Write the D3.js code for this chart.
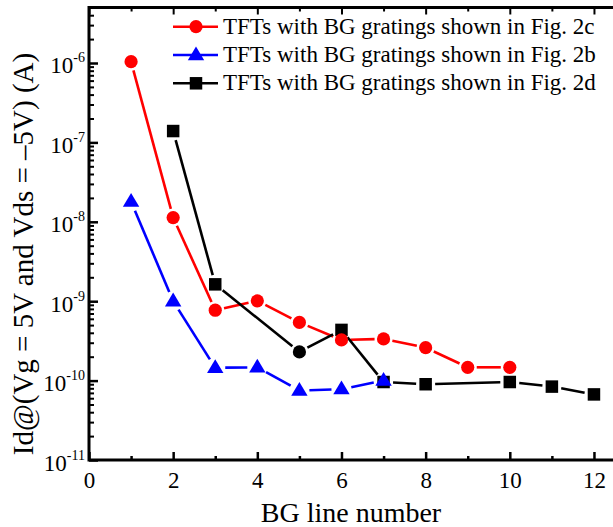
<!DOCTYPE html>
<html>
<head>
<meta charset="utf-8">
<script src="https://cdn.jsdelivr.net/npm/d3@7"></script>
<style>
  body { margin: 0; background: #fff; }
  text { font-family: "Liberation Serif", "Times New Roman", serif; fill: #000; }
</style>
</head>
<body>
<svg id="chart" width="613" height="527"></svg>
<script>
// data
var redX = [1, 2, 3, 4, 5, 6, 7, 8, 9, 10];
var redY = [1.04e-6, 1.13e-8, 7.7e-10, 1.01e-9, 5.4e-10, 3.25e-10, 3.35e-10, 2.6e-10, 1.47e-10, 1.47e-10];

var blueX = [1, 2, 3, 4, 5, 6, 7];
var blueY = [1.8e-8, 1.0e-9, 1.45e-10, 1.47e-10, 7.5e-11, 7.8e-11, 1.0e-10];

var blackX = [2, 3, 5, 6, 7, 8, 10, 11, 12];
var blackY = [1.39e-7, 1.63e-9, 2.3e-10, 4.35e-10, 9.6e-11, 9.0e-11, 9.6e-11, 8.4e-11, 6.7e-11];
var blackShape = ["square", "square", "circle", "square", "square", "square", "square", "square", "square"];

var legendLabels = [
  "TFTs with BG gratings shown in Fig. 2c",
  "TFTs with BG gratings shown in Fig. 2b",
  "TFTs with BG gratings shown in Fig. 2d"
];

var xTicks = [0, 2, 4, 6, 8, 10, 12];
var xMinor = [1, 3, 5, 7, 9, 11];
var yDecades = [-11, -10, -9, -8, -7, -6];

var svg = d3.select("#chart");

var plotLeft = 89, plotRight = 615, plotTop = 7.5, plotBottom = 460;

var x = d3.scaleLinear().domain([0, 12.5]).range([plotLeft, plotRight]);
var y = d3.scaleLog().domain([1e-11, 5e-6]).range([plotBottom, plotTop]);

// minor log ticks
var yMinor = [];
yDecades.forEach(function(e) {
  for (var m = 2; m <= 9; m++) {
    var v = m * Math.pow(10, e);
    if (v <= 5e-6) yMinor.push(v);
  }
});

// y axis (ticks inside)
svg.append("g")
  .attr("transform", `translate(${plotLeft},0)`)
  .call(d3.axisLeft(y).tickValues(yMinor).tickSize(-5).tickFormat(""))
  .call(function(g) { g.selectAll("line").attr("stroke-width", 2); g.select(".domain").remove(); });

var yAx = svg.append("g")
  .attr("transform", `translate(${plotLeft},0)`)
  .call(d3.axisLeft(y).tickValues(yDecades.map(function(e) { return Math.pow(10, e); }))
    .tickSize(-9).tickPadding(2).tickFormat(function(d) { return ""; }));
yAx.select(".domain").remove();
yAx.selectAll("line").attr("stroke-width", 2.5);
yAx.selectAll(".tick text").each(function(d) {
  var t = d3.select(this)
    .attr("font-family", "Liberation Serif")
    .attr("font-size", 23)
    .attr("text-anchor", "end")
    .attr("dy", null)
    .attr("y", 10)
    .attr("x", -4);
  t.append("tspan").text("10");
  t.append("tspan").attr("font-size", 14).attr("dy", -11).text(Math.round(Math.log10(d)));
});

// x axis (ticks inside)
svg.append("g")
  .attr("transform", `translate(0,${plotBottom})`)
  .call(d3.axisBottom(x).tickValues(xMinor).tickSize(-4).tickFormat(""))
  .call(function(g) { g.selectAll("line").attr("stroke-width", 2.5); g.select(".domain").remove(); });

var xAx = svg.append("g")
  .attr("transform", `translate(0,${plotBottom})`)
  .call(d3.axisBottom(x).tickValues(xTicks).tickSize(-8).tickPadding(12).tickFormat(d3.format("d")));
xAx.select(".domain").remove();
xAx.selectAll("line").attr("stroke-width", 2.5);
xAx.selectAll("text").attr("font-family", "Liberation Serif").attr("font-size", 23).attr("dy", "0.71em");

// top border ticks
svg.append("g")
  .attr("transform", `translate(0,${plotTop})`)
  .call(d3.axisTop(x).tickValues(xMinor).tickSize(-4).tickFormat(""))
  .call(function(g) { g.selectAll("line").attr("stroke-width", 2); g.select(".domain").remove(); });
svg.append("g")
  .attr("transform", `translate(0,${plotTop})`)
  .call(d3.axisTop(x).tickValues(xTicks).tickSize(-7).tickFormat(""))
  .call(function(g) { g.selectAll("line").attr("stroke-width", 2); g.select(".domain").remove(); });

// frame
svg.append("path")
  .attr("d", `M${plotRight + 10},${plotTop}H${plotLeft}V${plotBottom}H${plotRight + 10}`)
  .attr("fill", "none").attr("stroke", "#000").attr("stroke-width", 3);

// series
var series = [
  { xs: redX, ys: redY, color: "#ff0000", shapes: redX.map(function() { return "circle"; }) },
  { xs: blueX, ys: blueY, color: "#0000ff", shapes: blueX.map(function() { return "triangle"; }) },
  { xs: blackX, ys: blackY, color: "#000000", shapes: blackShape }
];

var gapR = { circle: 9, triangle: 10, square: 9.5 };

function markerPath(shape) {
  if (shape === "circle") return d3.symbol(d3.symbolCircle, Math.PI * 6.6 * 6.6)();
  if (shape === "square") return d3.symbol(d3.symbolSquare, 12.5 * 12.5)();
  return "M0,-8.6L8.2,5.2L-8.2,5.2Z";
}

var lineLayer = svg.append("g");
var markLayer = svg.append("g");

series.forEach(function(s) {
  for (var i = 0; i < s.xs.length - 1; i++) {
    var x0 = x(s.xs[i]), y0 = y(s.ys[i]), x1 = x(s.xs[i + 1]), y1 = y(s.ys[i + 1]);
    var len = Math.hypot(x1 - x0, y1 - y0);
    var g0 = gapR[s.shapes[i]], g1 = gapR[s.shapes[i + 1]];
    if (len <= g0 + g1) continue;
    var ux = (x1 - x0) / len, uy = (y1 - y0) / len;
    lineLayer.append("line")
      .attr("x1", x0 + ux * g0).attr("y1", y0 + uy * g0)
      .attr("x2", x1 - ux * g1).attr("y2", y1 - uy * g1)
      .attr("stroke", s.color).attr("stroke-width", 2.6);
  }
});

[series[2], series[0], series[1]].forEach(function(s) {
  markLayer.selectAll(null)
    .data(s.xs.map(function(v, i) { return { x: v, y: s.ys[i], shape: s.shapes[i] }; }))
    .enter().append("path")
    .attr("transform", function(d) { return `translate(${x(d.x)},${y(d.y)})`; })
    .attr("d", function(d) { return markerPath(d.shape); })
    .attr("fill", s.color);
});

// legend
var legend = svg.append("g");
var legendShapes = ["circle", "triangle", "square"];
series.forEach(function(s, i) {
  var ly = 26.7 + i * 28.3;
  legend.append("line")
    .attr("x1", 173).attr("x2", 218).attr("y1", ly).attr("y2", ly)
    .attr("stroke", s.color).attr("stroke-width", 2.6);
  legend.append("path")
    .attr("transform", `translate(196,${ly})`)
    .attr("d", markerPath(legendShapes[i]))
    .attr("fill", s.color);
  legend.append("text")
    .attr("x", 223).attr("y", ly + 6.8)
    .attr("font-size", 23)
    .text(legendLabels[i]);
});

// axis titles
svg.append("text")
  .attr("x", (plotLeft + 613) / 2).attr("y", 522)
  .attr("text-anchor", "middle")
  .attr("font-size", 28)
  .text("BG line number");

svg.append("text")
  .attr("transform", "translate(33,254) rotate(-90)")
  .attr("text-anchor", "middle")
  .attr("font-size", 29)
  .text("Id@(Vg = 5V and Vds = \u20135V) (A)");
</script>
</body>
</html>
